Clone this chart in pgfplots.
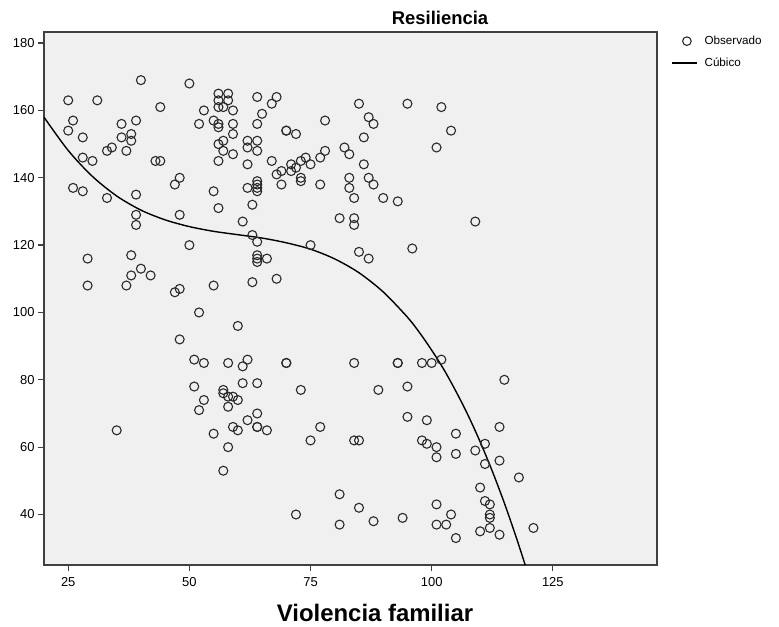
\documentclass[border=0pt]{standalone}
\usepackage{fontspec}
\setmainfont{Liberation Sans}
\usepackage{pgfplots}
\pgfplotsset{compat=1.18}

\definecolor{bgcol}{HTML}{F0F0F0}
\definecolor{framecol}{HTML}{404040}
\definecolor{markcol}{HTML}{2A2A2A}

\begin{document}
\begin{tikzpicture}
\begin{axis}[
    scale only axis,
    width=613bp, height=533bp,
    at={(0,0)}, anchor=south west,
    xmin=20, xmax=146.5,
    ymin=25, ymax=183.3,
    xtick={25,50,75,100,125},
    ytick={40,60,80,100,120,140,160,180},
    tick align=outside, tick pos=left,
    major tick length=6bp,
    axis background/.style={fill=bgcol},
    axis line style={draw=framecol, line width=1.3bp},
    tick style={draw=framecol, line width=1.3bp},
    ticklabel style={font=\fontsize{13}{15}\selectfont},
    xticklabel style={yshift=-3bp},
    /pgf/number format/assume math mode=true,
    title={Resiliencia},
    title style={font=\fontsize{18.5}{22}\selectfont\bfseries,
        at={(axis description cs:0.646,1)}, anchor=center, yshift=8bp},
    xlabel={Violencia familiar},
    xlabel style={font=\fontsize{24}{28}\selectfont\bfseries,
        at={(axis description cs:0.54,0)}, anchor=center, yshift=-48bp},
    legend style={at={(axis description cs:1,1)}, anchor=north west,
        xshift=14bp, yshift=-2bp, draw=none, fill=none, inner sep=0pt,
        font=\fontsize{11.7}{14}\selectfont, row sep=8bp,
        /tikz/column 1/.style={column sep=5bp}},
    legend cell align=left,
]
% Observado
\addplot[only marks, mark=o, mark size=4.5bp,
    mark options={draw=markcol, line width=1.1bp},
    legend image code/.code={\draw[markcol, line width=1.1bp] (15bp,0bp) circle[radius=4.3bp];}]
coordinates {
(25,163)(31,163)(50,168)(40,169)(44,161)(26,157)(25,154)(39,157)(36,156)(28,152)
(36,152)(38,153)(38,151)(52,156)(34,149)(33,148)(37,148)(28,146)(30,145)(43,145)
(44,145)(48,140)(47,138)(26,137)(28,136)(33,134)(39,135)(39,129)(39,126)(48,129)
(50,120)(29,116)(38,117)(40,113)(38,111)(42,111)(29,108)(37,108)(47,106)(48,107)
(52,100)
(56,165)(58,165)(56,163)(58,163)(56,161)(57,161)(64,164)(68,164)(67,162)(53,160)
(59,160)(65,159)(55,157)(56,156)(56,155)(59,156)(64,156)(78,157)(59,153)(70,154)
(70,154)(72,153)(56,150)(57,151)(57,148)(59,147)(56,145)(62,151)(64,151)(62,149)
(64,148)(62,144)(67,145)(68,141)(69,142)(71,144)(71,142)(72,143)(73,145)(74,146)
(75,144)(77,146)(78,148)(73,140)(73,139)(69,138)(77,138)(64,139)(64,138)(64,137)
(64,136)(62,137)(55,136)(56,131)(63,132)(61,127)(81,128)(63,123)(64,121)(75,120)
(64,117)(64,116)(64,115)(66,116)(63,109)(68,110)(55,108)
(85,162)(95,162)(102,161)(87,158)(88,156)(104,154)(86,152)(82,149)(83,147)(101,149)
(86,144)(83,140)(83,137)(87,140)(88,138)(84,134)(90,134)(93,133)(84,128)(84,126)
(109,127)(96,119)(85,118)(87,116)
(35,65)(48,92)(51,86)(51,78)(52,71)(60,96)(53,85)(58,85)(62,86)(61,84)
(70,85)(70,85)(61,79)(64,79)(73,77)(57,77)(57,76)(58,75)(59,75)(60,74)
(58,72)(53,74)(64,70)(62,68)(64,66)(64,66)(66,65)(59,66)(60,65)(55,64)
(58,60)(57,53)(77,66)(75,62)(72,40)(81,46)(81,37)
(84,85)(93,85)(93,85)(98,85)(100,85)(102,86)(115,80)(89,77)(95,78)(95,69)
(99,68)(114,66)(105,64)(84,62)(85,62)(98,62)(99,61)(101,60)(101,57)(105,58)
(109,59)(111,61)(111,55)(114,56)(118,51)(110,48)(85,42)(101,43)(111,44)(112,43)
(112,40)(112,39)(88,38)(94,39)(101,37)(103,37)(104,40)(112,36)(110,35)(114,34)
(105,33)(121,36)
};
\addlegendentry{Observado}
% Cubic fit
\addplot[black, line width=1.4bp, smooth,
    legend image code/.code={\draw[black, line width=1.4bp] (0bp,0bp) -- (25bp,0bp);}]
coordinates {
(20,158.0)(25,148.1)(30,140.4)(35,134.6)(40,130.4)(45,127.5)(50,125.5)(55,124.1)
(60,123.1)(65,122.1)(70,120.7)(75,118.8)(80,115.9)(85,111.8)(90,106.1)(95,98.6)
(97.5,94.0)(100,88.8)(102.5,83.1)(105,76.6)(107.5,69.5)(110,61.6)(112.5,52.9)
(115,43.4)(117.5,33.0)(119.3,25.0)
};
\addlegendentry{Cúbico}
\end{axis}
\pgfresetboundingbox
\useasboundingbox (-44bp,-62bp) rectangle (735bp,565bp);
\end{tikzpicture}
\end{document}
